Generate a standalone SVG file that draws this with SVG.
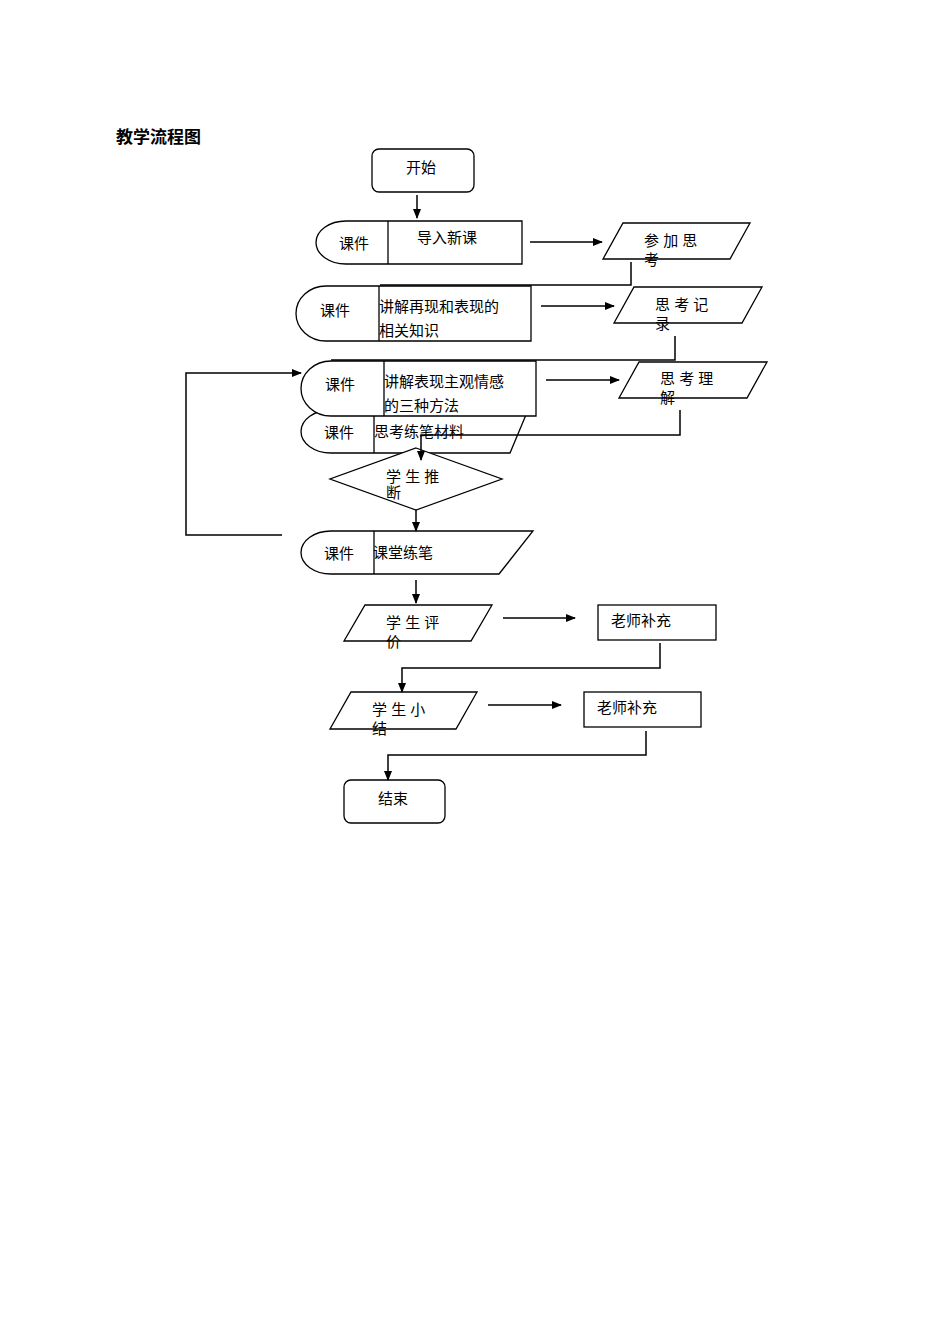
<svg xmlns="http://www.w3.org/2000/svg" width="950" height="1344" viewBox="0 0 950 1344">
<style>
.s{fill:#fff;stroke:#000;stroke-width:1.3}
.c{fill:none;stroke:#000;stroke-width:1.5}
text{font-family:"Liberation Sans","Noto Sans CJK SC",sans-serif;font-size:15px;fill:#000}
.t{font-weight:bold;font-size:17px}
</style>
<defs><marker id="a" markerWidth="10" markerHeight="8" refX="9" refY="4" orient="auto" markerUnits="userSpaceOnUse"><path d="M0,0L10,4L0,8z"/></marker></defs>
<rect width="950" height="1344" fill="#fff"/>
<text class="t" x="116" y="143">教学流程图</text>
<g id="start"><rect class="s" x="372" y="149" width="102" height="43" rx="7"/><text x="406" y="173">开始</text></g>
<g id="n1"><path class="s" d="M388,221H522V264H388H346A30,21.5 0 0 1 346,221Z"/><line class="s" x1="388" y1="221" x2="388" y2="264"/><text x="339" y="249">课件</text><text x="417" y="243">导入新课</text></g>
<g id="p1"><path class="s" d="M623,223H750L730,259H603Z"/><text x="644" y="246">参  加  思</text><text x="644" y="265">考</text></g>
<g id="n2"><path class="s" d="M379,286H531V341H379H326A30,27.5 0 0 1 326,286Z"/><line class="s" x1="379" y1="286" x2="379" y2="341"/><text x="320" y="316">课件</text><text x="379" y="312">讲解再现和表现的</text><text x="379" y="336">相关知识</text></g>
<g id="p2"><path class="s" d="M634,287H762L742,323H614Z"/><text x="655" y="310">思  考  记</text><text x="655" y="329">录</text></g>
<g id="n4"><path class="s" d="M374,410H528L510,453H374H331A30,21.5 0 0 1 331,410Z"/><line class="s" x1="374" y1="410" x2="374" y2="453"/><text x="324" y="438">课件</text><text x="374" y="437">思考练笔材料</text></g>
<g id="n3"><path class="s" d="M384,361H536V416H384H331A30,27.5 0 0 1 331,361Z"/><line class="s" x1="384" y1="361" x2="384" y2="416"/><text x="325" y="390">课件</text><text x="384" y="387">讲解表现主观情感</text><text x="384" y="411">的三种方法</text></g>
<g id="p3"><path class="s" d="M639,362H767L747,398H619Z"/><text x="660" y="384">思  考  理</text><text x="660" y="403">解</text></g>
<g id="d1"><path class="s" d="M416,448L502,479L416,510L330,479Z"/><text x="386" y="482">学  生  推</text><text x="386" y="498">断</text></g>
<g id="n5"><path class="s" d="M374,531H533L499,574H374H331A30,21.5 0 0 1 331,531Z"/><line class="s" x1="374" y1="531" x2="374" y2="574"/><text x="324" y="559">课件</text><text x="373" y="558">课堂练笔</text></g>
<g id="p4"><path class="s" d="M365,605H492L471,641H344Z"/><text x="386" y="628">学  生  评</text><text x="386" y="647">价</text></g>
<g id="r1"><rect class="s" x="598" y="605" width="118" height="35"/><text x="611" y="626">老师补充</text></g>
<g id="p5"><path class="s" d="M351,692H477L456,729H330Z"/><text x="372" y="715">学  生  小</text><text x="372" y="734">结</text></g>
<g id="r2"><rect class="s" x="584" y="692" width="117" height="35"/><text x="597" y="713">老师补充</text></g>
<g id="end"><rect class="s" x="344" y="780" width="101" height="43" rx="7"/><text x="378" y="804">结束</text></g>
<g id="connectors">
<line class="c" x1="417" y1="195" x2="417" y2="218" marker-end="url(#a)"/>
<line class="c" x1="530" y1="242" x2="602" y2="242" marker-end="url(#a)"/>
<polyline class="c" points="631,262 631,285 380,285"/>
<line class="c" x1="541" y1="306" x2="614" y2="306" marker-end="url(#a)"/>
<polyline class="c" points="675,336 675,360 331,360"/>
<line class="c" x1="546" y1="380" x2="619" y2="380" marker-end="url(#a)"/>
<polyline class="c" points="680,410 680,435 421,435 421,460" marker-end="url(#a)"/>
<line class="c" x1="416" y1="510" x2="416" y2="531" marker-end="url(#a)"/>
<polyline class="c" points="282,535 186,535 186,373 301,373" marker-end="url(#a)"/>
<line class="c" x1="416" y1="580" x2="416" y2="603" marker-end="url(#a)"/>
<line class="c" x1="503" y1="618" x2="575" y2="618" marker-end="url(#a)"/>
<polyline class="c" points="660,643 660,668 402,668 402,692" marker-end="url(#a)"/>
<line class="c" x1="488" y1="705" x2="561" y2="705" marker-end="url(#a)"/>
<polyline class="c" points="646,731 646,755 388,755 388,780" marker-end="url(#a)"/>
</g>
</svg>
